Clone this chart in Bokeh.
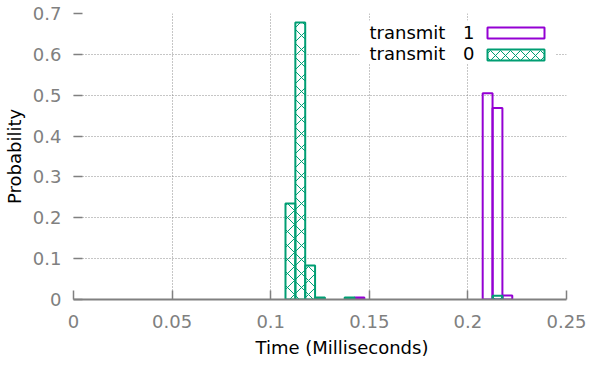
from bokeh.plotting import figure
from bokeh.models import (Range1d, FixedTicker, CustomJSTickFormatter, BoxAnnotation, Label, Title)
from bokeh.embed import file_html
from bokeh.resources import INLINE

# ---- data ----
bin_width = 0.005
t1_x = [0.145, 0.210, 0.215, 0.220]
t1_p = [0.005, 0.505, 0.469, 0.010]
t0_x = [0.110, 0.115, 0.120, 0.125, 0.140, 0.215]
t0_p = [0.235, 0.678, 0.083, 0.005, 0.005, 0.009]
x_ticks = [0, 0.05, 0.10, 0.15, 0.20, 0.25]
y_ticks = [0, 0.1, 0.2, 0.3, 0.4, 0.5, 0.6, 0.7]
series_names = ["transmit", "transmit"]
series_ids = ["1", "0"]
x_title = "Time (Milliseconds)"
y_title = "Probability"

PURPLE = "#9400d3"
GREEN = "#009e73"
FONT = "DejaVu Sans"

p = figure(width=590, height=367, output_backend="svg", toolbar_location=None,
           x_range=Range1d(0, 0.25), y_range=Range1d(0, 0.7),
           min_border_left=72, min_border_right=24, min_border_top=13, min_border_bottom=68)
p.outline_line_color = None
p.background_fill_color = "white"

p.vbar(x=t1_x, top=t1_p, width=bin_width, fill_color=None,
       line_color=PURPLE, line_width=2)
p.vbar(x=t0_x, top=t0_p, width=bin_width, fill_color=None,
       line_color=GREEN, line_width=2,
       hatch_pattern="diagonal_cross", hatch_color=GREEN, hatch_scale=14, hatch_weight=1)

fmt = CustomJSTickFormatter(code="return String(parseFloat(tick.toFixed(3)));")
for ax, ticks in ((p.xaxis[0], x_ticks), (p.yaxis[0], y_ticks)):
    ax.ticker = FixedTicker(ticks=ticks)
    ax.formatter = fmt
    ax.major_tick_in = 9
    ax.major_tick_out = 0
    ax.minor_tick_in = 0
    ax.minor_tick_out = 0
    ax.major_tick_line_color = "#808080"
    ax.major_tick_line_width = 1.5
    ax.major_label_text_font = FONT
    ax.major_label_text_font_size = "18px"
    ax.major_label_text_color = "#808080"
    ax.axis_label_text_font = FONT
    ax.axis_label_text_font_size = "18px"
    ax.axis_label_text_font_style = "normal"
    ax.axis_label_text_color = "black"

p.yaxis.axis_label = y_title
p.xaxis.axis_line_color = "#808080"
p.xaxis.axis_line_width = 2
p.yaxis.axis_line_color = None
p.xaxis.major_label_standoff = 15
p.yaxis.major_label_standoff = 12
p.yaxis.axis_label_standoff = 5

# x-axis title, offset from the frame centre as in the reference
p.add_layout(Title(text=x_title, align="left", offset=182, standoff=13,
                   vertical_align="top", text_font=FONT, text_font_size="18px",
                   text_font_style="normal", text_color="black"), "below")

for g in (p.xgrid[0], p.ygrid[0]):
    g.grid_line_color = "#8c8c8c"
    g.grid_line_dash = "1 2"
    g.grid_line_width = 1
p.xgrid.ticker = FixedTicker(ticks=x_ticks)
p.ygrid.ticker = FixedTicker(ticks=y_ticks)

# ---- legend (gnuplot style: text left, sample right) ----
def sbox(l, r, b, t, **kw):
    return BoxAnnotation(left=l, right=r, bottom=b, top=t,
                         left_units="screen", right_units="screen",
                         bottom_units="screen", top_units="screen", **kw)

p.add_layout(sbox(286, 482, 236, 279, fill_color="white", fill_alpha=1, line_color=None))
p.add_layout(sbox(414, 471, 261, 272, fill_color="white", fill_alpha=1,
                  line_color=PURPLE, line_alpha=1, line_width=2))
p.add_layout(sbox(414, 471, 239, 250, fill_color="white", fill_alpha=1,
                  line_color=GREEN, line_alpha=1, line_width=2,
                  hatch_pattern="diagonal_cross", hatch_color=GREEN, hatch_alpha=1,
                  hatch_scale=10, hatch_weight=1))
for name, sid, yy in zip(series_names, series_ids, (267, 246)):
    p.add_layout(Label(x=296, y=yy, x_units="screen", y_units="screen", text=name,
                       text_font=FONT, text_font_size="18px", text_color="black",
                       text_baseline="middle", text_align="left"))
    p.add_layout(Label(x=401, y=yy, x_units="screen", y_units="screen", text=sid,
                       text_font=FONT, text_font_size="18px", text_color="black",
                       text_baseline="middle", text_align="right"))

open("out.html", "w").write(file_html(p, INLINE))
